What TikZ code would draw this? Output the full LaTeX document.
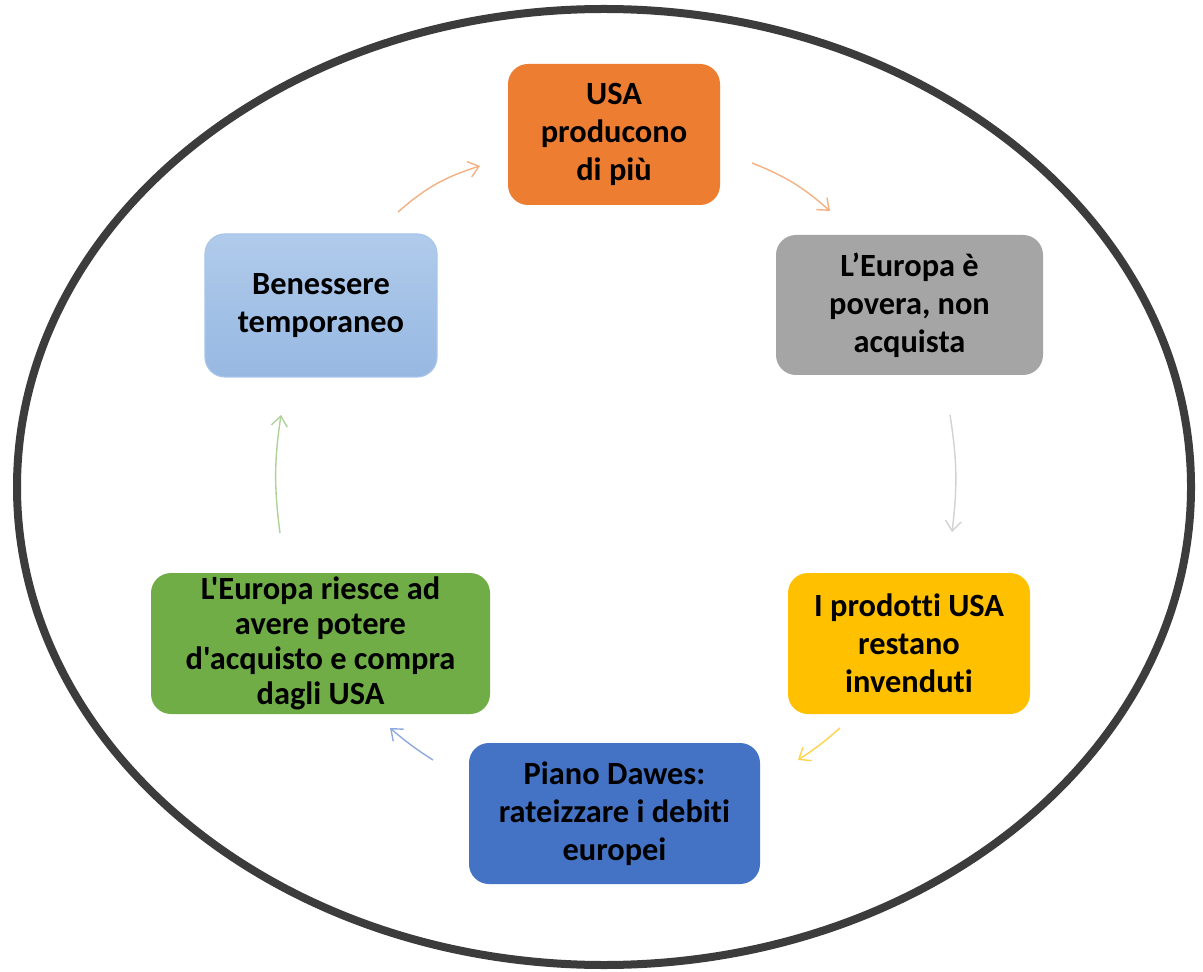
\documentclass[tikz,border=0pt]{standalone}
\usepackage{fontspec}
\newfontfamily\calib{Carlito}[Ligatures={NoCommon}]
\usetikzlibrary{arrows.meta}
\definecolor{cOrange}{HTML}{ED7D31}
\definecolor{cGray}{HTML}{A5A5A5}
\definecolor{cYellow}{HTML}{FFC000}
\definecolor{cBlue}{HTML}{4472C4}
\definecolor{cGreen}{HTML}{70AD47}
\definecolor{cLightT}{HTML}{B0CBEB}
\definecolor{cLightM}{HTML}{A4C2E8}
\definecolor{cLightBot}{HTML}{97B8E2}
\definecolor{cLightB}{HTML}{A9C5EA}
\definecolor{cRing}{HTML}{3C3C3C}
\tikzset{
  box/.style={rectangle, rounded corners=10pt, inner sep=0pt, align=center,
    font=\calib\fontsize{16.2}{19}\selectfont\bfseries, text=black},
  link/.style={line width=0.7pt, -{Straight Barb[length=5pt,width=8pt]}},
}
\begin{document}
\begin{tikzpicture}[x=0.5pt,y=-0.5pt]
\useasboundingbox (0,0) rectangle (1203,972);
\fill[white] (0,0) rectangle (1203,972);
\draw[cRing, line width=4pt] (604,487) ellipse [x radius=587, y radius=478];

\node[box, fill=cOrange, minimum width=106pt, minimum height=70.5pt] (usa) at (614,134.5) {USA\\producono\\di più};
\node[box, fill=cGray, minimum width=133.5pt, minimum height=70pt] (eur) at (909.5,305) {L’Europa è\\povera, non\\acquista};
\node[box, fill=cYellow, minimum width=121pt, minimum height=70.5pt] (prod) at (909,643.5) {I prodotti USA\\restano\\invenduti};
\node[box, fill=cBlue, minimum width=145.5pt, minimum height=70.5pt] (dawes) at (614.5,813.5) {Piano Dawes:\\rateizzare i debiti\\europei};
\node[box, fill=cGreen, minimum width=169.5pt, minimum height=70.5pt,
  font=\calib\fontsize{16.2}{17.6}\selectfont\bfseries] (riesce) at (320.5,643.5) {L'Europa riesce ad\\avere potere\\d'acquisto e compra\\dagli USA};
\node[box, top color=cLightT, bottom color=cLightBot, draw=cLightB, line width=0.6pt, minimum width=116pt, minimum height=71.5pt] (ben) at (321,305.5) {Benessere\\temporaneo};

\coordinate (a1s) at (398,212); \coordinate (a1e) at (480,166);
\coordinate (a2s) at (752,163); \coordinate (a2e) at (830,211);
\coordinate (a3s) at (950,415); \coordinate (a3e) at (952,532);
\coordinate (a4s) at (840,728); \coordinate (a4e) at (798,760);
\coordinate (a5s) at (433,760); \coordinate (a5e) at (390,728);
\coordinate (a6s) at (280,533); \coordinate (a6e) at (281,415);

\draw[link, color=cOrange!60] (a1s) to[bend left=12] (a1e);
\draw[link, color=cOrange!60] (a2s) to[bend left=10] (a2e);
\draw[link, color=cGray!50] (a3s) to[bend left=8] (a3e);
\draw[link, color=cYellow!70] (a4s) to[bend left=4] (a4e);
\draw[link, color=cBlue!60] (a5s) to[bend left=4] (a5e);
\draw[link, color=cGreen!55] (a6s) to[bend left=8] (a6e);
\end{tikzpicture}
\end{document}
